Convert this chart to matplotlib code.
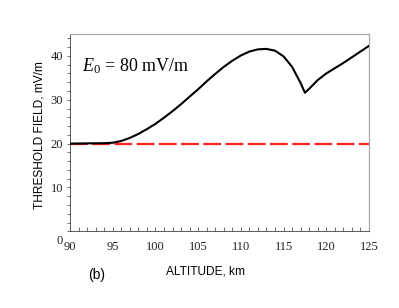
import numpy as np
import matplotlib
matplotlib.use("Agg")
import matplotlib.pyplot as plt
import matplotlib.transforms as mtransforms
from matplotlib.ticker import MultipleLocator

# threshold field vs altitude, E0 = 80 mV/m
altitude = [90, 92, 94, 95, 96, 97, 98, 99, 100, 101, 102, 103, 104, 105,
            106, 107, 108, 109, 110, 111, 112, 113, 114, 115, 116, 117,
            117.5, 118, 119, 120, 121, 122, 123, 124, 125]
threshold = [20.0, 20.05, 20.1, 20.2, 20.6, 21.3, 22.2, 23.3, 24.5, 25.9,
             27.4, 29.0, 30.7, 32.4, 34.2, 35.9, 37.5, 38.9, 40.1, 41.0,
             41.5, 41.6, 41.2, 39.9, 37.5, 33.8, 31.6, 32.5, 34.5, 36.0,
             37.2, 38.4, 39.7, 41.0, 42.3]
reference_level = 20.0
x_ticks = [90, 95, 100, 105, 110, 115, 120, 125]
y_ticks = [0, 10, 20, 30, 40]

serif = "Liberation Serif"
sans = "Liberation Sans"
plt.rcParams["mathtext.fontset"] = "custom"
plt.rcParams["mathtext.rm"] = serif
plt.rcParams["mathtext.it"] = serif + ":italic"

fig = plt.figure(figsize=(3.99, 3.08), dpi=100)
ax = fig.add_axes([0.1754, 0.249, 0.7494, 0.6406])

ax.plot(altitude, threshold, color="black", lw=1.5, zorder=3)
ax.axhline(reference_level, color="#ff2020", lw=1.6, dashes=(8, 2), zorder=2)

ax.set_xlim(90, 125)
ax.set_ylim(0, 45)
ax.set_xticks(x_ticks)
ax.set_yticks(y_ticks)
ax.xaxis.set_minor_locator(MultipleLocator(1))
ax.yaxis.set_minor_locator(MultipleLocator(2))

ax.tick_params(axis="x", which="both", direction="in", length=3, width=0.6,
               color="#555555", pad=7, labelsize=9, labelcolor="#222222")
ax.tick_params(axis="y", which="both", direction="out", length=2.5, width=0.6,
               color="#555555", pad=2.5, labelsize=9, labelcolor="#222222")
for lab in ax.get_xticklabels() + ax.get_yticklabels():
    lab.set_fontfamily(serif)

# the 0 label sits lower, near the corner
lab0 = ax.get_yticklabels()[0]
lab0.set_transform(lab0.get_transform() +
                   mtransforms.ScaledTranslation(0, -6 / 72, fig.dpi_scale_trans))

for side in ["left", "bottom"]:
    ax.spines[side].set_color("#555555")
    ax.spines[side].set_linewidth(0.7)
for side in ["top", "right"]:
    ax.spines[side].set_color("#aaaaaa")
    ax.spines[side].set_linewidth(0.9)

ax.text(0.04, 0.835, r"$E_0$ = 80 mV/m", transform=ax.transAxes,
        fontsize=13, family=serif, va="center", ha="left")

fig.text(0.514, 0.117, "ALTITUDE, km", family=sans, fontsize=8.6,
         ha="center", va="center")
fig.text(0.1, 0.56, "THRESHOLD FIELD, mV/m", family=sans, fontsize=8.6,
         ha="center", va="center", rotation=90)
fig.text(0.243, 0.107, "(b)", family=sans, fontsize=10, ha="center", va="center")

fig.savefig("out.png", dpi=100)
